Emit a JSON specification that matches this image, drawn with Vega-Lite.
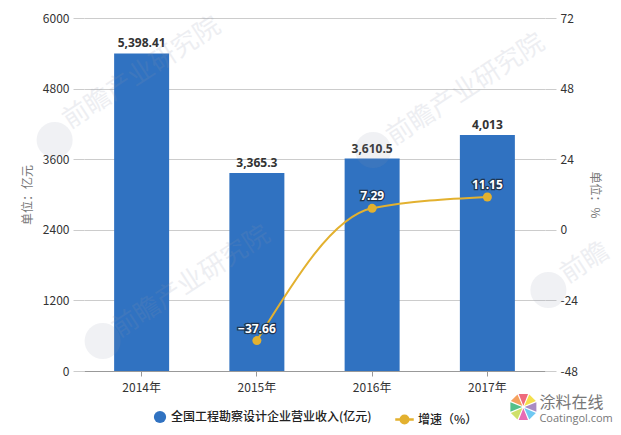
{
  "$schema": "https://vega.github.io/schema/vega-lite/v6.json",
  "description": "全国工程勘察设计企业营业收入及增速 2014-2017",
  "width": 461,
  "height": 353,
  "padding": {"left": 84, "top": 18, "right": 76, "bottom": 64},
  "autosize": {"type": "none"},
  "background": "white",
  "config": {
    "view": {"stroke": null},
    "font": "Noto Sans CJK SC",
    "axis": {"labelFont": "Noto Sans CJK SC", "titleFont": "Noto Sans CJK SC"},
    "legend": {"labelFont": "Noto Sans CJK SC"}
  },
  "datasets": {
    "income": [
      {"year": "2014年", "revenue": 5398.41, "series": "全国工程勘察设计企业营业收入(亿元)"},
      {"year": "2015年", "revenue": 3365.3, "series": "全国工程勘察设计企业营业收入(亿元)"},
      {"year": "2016年", "revenue": 3610.5, "series": "全国工程勘察设计企业营业收入(亿元)"},
      {"year": "2017年", "revenue": 4013, "series": "全国工程勘察设计企业营业收入(亿元)"}
    ],
    "growth": [
      {"year": "2015年", "rate": -37.66, "series": "增速（%）"},
      {"year": "2016年", "rate": 7.29, "series": "增速（%）"},
      {"year": "2017年", "rate": 11.15, "series": "增速（%）"}
    ],
    "petals": [
      {"year": "2017年", "level": -612, "petal": "a"},
      {"year": "2017年", "level": -612, "petal": "b"},
      {"year": "2017年", "level": -612, "petal": "c"},
      {"year": "2017年", "level": -612, "petal": "d"},
      {"year": "2017年", "level": -612, "petal": "e"},
      {"year": "2017年", "level": -612, "petal": "f"},
      {"year": "2017年", "level": -612, "petal": "g"},
      {"year": "2017年", "level": -612, "petal": "h"}
    ]
  },
  "encoding": {
    "x": {
      "field": "year",
      "type": "nominal",
      "sort": null,
      "scale": {"domain": ["2014年", "2015年", "2016年", "2017年"], "paddingInner": 0, "paddingOuter": 0},
      "axis": {
        "title": null,
        "labelAngle": 0,
        "labelColor": "#333333",
        "labelFontSize": 12,
        "labelPadding": 6,
        "tickSize": 5,
        "tickColor": "#999999",
        "domainColor": "#999999",
        "grid": false
      }
    }
  },
  "layer": [
    {
      "encoding": {
        "y": {
          "field": "revenue",
          "type": "quantitative",
          "scale": {"domain": [0, 6000]},
          "axis": {
            "title": "单位：亿元",
            "titleColor": "#777777",
            "titleFontSize": 12,
            "titleFontWeight": "normal",
            "titlePadding": 8,
            "values": [0, 1200, 2400, 3600, 4800, 6000],
            "format": "d",
            "labelColor": "#333333",
            "labelFontSize": 12,
            "labelPadding": 4,
            "tickSize": 11,
            "tickColor": "#cccccc",
            "gridColor": "#cccccc",
            "domain": false
          }
        }
      },
      "layer": [
        {
          "data": {"name": "income"},
          "mark": {"type": "bar", "width": 55},
          "encoding": {
            "color": {
              "field": "series",
              "type": "nominal",
              "scale": {"range": ["#3072c1"]},
              "legend": {
                "title": null,
                "orient": "none",
                "legendX": 69,
                "legendY": 392,
                "symbolType": "circle",
                "symbolSize": 150,
                "labelFontSize": 12,
                "labelLimit": 320,
                "labelColor": "#222222",
                "labelFontWeight": 500
              }
            }
          }
        },
        {
          "data": {"name": "income"},
          "mark": {"type": "text", "dy": -10, "fontSize": 12, "fontWeight": "bold", "color": "#333333", "font": "Open Sans"},
          "encoding": {
            "text": {"field": "revenue", "type": "quantitative", "format": ",.2~f"}
          }
        },
        {
          "data": {"values": [{"year": "2014年", "level": 5065}]},
          "mark": {"type": "text", "text": "前瞻产业研究院", "angle": 327, "fontSize": 26, "color": "#8d95ab", "opacity": 0.15},
          "encoding": {"y": {"field": "level", "type": "quantitative"}}
        },
        {
          "data": {"values": [{"year": "2017年", "level": 4776}]},
          "mark": {"type": "text", "text": "前瞻产业研究院", "angle": 327, "dx": -18, "dy": -12, "fontSize": 26, "color": "#8d95ab", "opacity": 0.15},
          "encoding": {"y": {"field": "level", "type": "quantitative"}}
        },
        {
          "data": {"values": [{"year": "2015年", "level": 1513}]},
          "mark": {"type": "text", "text": "前瞻产业研究院", "angle": 327, "dx": -55, "dy": -36, "fontSize": 26, "color": "#8d95ab", "opacity": 0.15},
          "encoding": {"y": {"field": "level", "type": "quantitative"}}
        },
        {
          "data": {"values": [{"year": "2017年", "level": 1836}]},
          "mark": {"type": "text", "text": "前瞻", "angle": 327, "dx": 82, "dy": 53, "fontSize": 26, "color": "#8d95ab", "opacity": 0.15},
          "encoding": {"y": {"field": "level", "type": "quantitative"}}
        },
        {
          "data": {"values": [{"year": "2014年", "level": 3926}]},
          "mark": {"type": "point", "shape": "circle", "filled": true, "size": 1300, "xOffset": -87, "color": "#8d95ab", "opacity": 0.13},
          "encoding": {"y": {"field": "level", "type": "quantitative"}}
        },
        {
          "data": {"values": [{"year": "2016年", "level": 3756}]},
          "mark": {"type": "point", "shape": "circle", "filled": true, "size": 1300, "xOffset": 1, "color": "#8d95ab", "opacity": 0.13},
          "encoding": {"y": {"field": "level", "type": "quantitative"}}
        },
        {
          "data": {"values": [{"year": "2014年", "level": 510}]},
          "mark": {"type": "point", "shape": "circle", "filled": true, "size": 1300, "xOffset": -39, "color": "#8d95ab", "opacity": 0.13},
          "encoding": {"y": {"field": "level", "type": "quantitative"}}
        },
        {
          "data": {"values": [{"year": "2017年", "level": 1377}]},
          "mark": {"type": "point", "shape": "circle", "filled": true, "size": 1300, "xOffset": 61, "color": "#8d95ab", "opacity": 0.13},
          "encoding": {"y": {"field": "level", "type": "quantitative"}}
        },
        {
          "data": {"name": "petals"},
          "mark": {"type": "point", "filled": true, "size": 676, "xOffset": 36, "opacity": 1, "strokeWidth": 0},
          "encoding": {
            "y": {"field": "level", "type": "quantitative"},
            "shape": {
              "field": "petal",
              "type": "nominal",
              "legend": null,
              "scale": {
                "domain": ["a", "b", "c", "d", "e", "f", "g", "h"],
                "range": [
                  "M0,-.1L-.36,-1L.36,-1Z",
                  "M.07,-.07L.453,-.962L.962,-.453Z",
                  "M.1,0L1,-.36L1,.36Z",
                  "M.07,.07L.962,.453L.453,.962Z",
                  "M0,.1L.36,1L-.36,1Z",
                  "M-.07,.07L-.453,.962L-.962,.453Z",
                  "M-.1,0L-1,.36L-1,-.36Z",
                  "M-.07,-.07L-.962,-.453L-.453,-.962Z"
                ]
              }
            },
            "fill": {
              "field": "petal",
              "type": "nominal",
              "legend": null,
              "scale": {
                "domain": ["a", "b", "c", "d", "e", "f", "g", "h"],
                "range": ["#ee6b7c", "#f4e04d", "#a98cc4", "#6fc8f2", "#e86bb5", "#cfe06a", "#55c08a", "#f6a05e"]
              }
            }
          }
        },
        {
          "data": {"values": [{"year": "2017年", "level": -544}]},
          "mark": {"type": "text", "text": "涂料在线", "align": "left", "dx": 52, "fontSize": 16, "color": "#777777"},
          "encoding": {"y": {"field": "level", "type": "quantitative"}}
        },
        {
          "data": {"values": [{"year": "2017年", "level": -816}]},
          "mark": {"type": "text", "text": "Coatingol.com", "align": "left", "dx": 52, "fontSize": 11, "color": "#777777", "font": "Open Sans"},
          "encoding": {"y": {"field": "level", "type": "quantitative"}}
        }
      ]
    },
    {
      "data": {"name": "growth"},
      "encoding": {
        "y": {
          "field": "rate",
          "type": "quantitative",
          "scale": {"domain": [-48, 72]},
          "axis": {
            "orient": "right",
            "title": "单位：%",
            "titleColor": "#777777",
            "titleFontSize": 12,
            "titleFontWeight": "normal",
            "titlePadding": 10,
            "values": [-48, -24, 0, 24, 48, 72],
            "labelExpr": "'' + datum.value",
            "labelColor": "#333333",
            "labelFontSize": 12,
            "labelPadding": 4,
            "tickSize": 11,
            "tickColor": "#cccccc",
            "grid": false,
            "domain": false
          }
        }
      },
      "layer": [
        {
          "mark": {"type": "line", "interpolate": "monotone", "strokeWidth": 2},
          "encoding": {
            "stroke": {
              "field": "series",
              "type": "nominal",
              "scale": {"range": ["#e3b12f"]},
              "legend": {
                "title": null,
                "orient": "none",
                "legendX": 311,
                "legendY": 392,
                "symbolType": "M-1,-.07H1V.07H-1ZM.5,0A.5,.5 0 1 1 -.5,0A.5,.5 0 1 1 .5,0Z",
                "symbolSize": 289,
                "symbolFillColor": "#e3b12f",
                "symbolStrokeColor": "#e3b12f",
                "labelFontSize": 12,
                "labelColor": "#222222",
                "labelFontWeight": 500
              }
            }
          }
        },
        {
          "mark": {"type": "point", "shape": "circle", "filled": true, "size": 81, "color": "#e3b12f", "opacity": 1}
        },
        {
          "mark": {"type": "text", "dy": -12, "fontSize": 12, "fontWeight": "bold", "stroke": "#1f3550", "strokeWidth": 2.5, "color": "#1f3550", "font": "Open Sans"},
          "encoding": {"text": {"field": "rate", "type": "quantitative", "format": ".2~f"}}
        },
        {
          "mark": {"type": "text", "dy": -12, "fontSize": 12, "fontWeight": "bold", "color": "white", "font": "Open Sans"},
          "encoding": {"text": {"field": "rate", "type": "quantitative", "format": ".2~f"}}
        }
      ]
    }
  ],
  "resolve": {"scale": {"y": "independent"}, "axis": {"y": "independent"}}
}
